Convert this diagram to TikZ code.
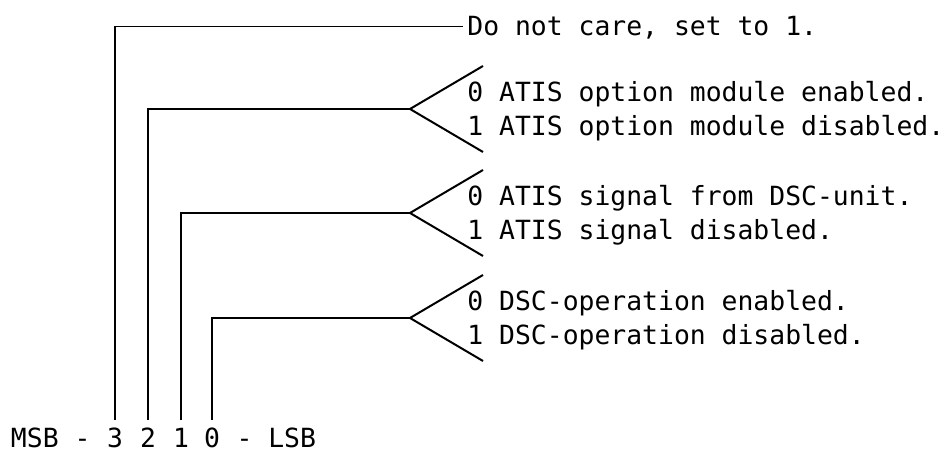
\documentclass[tikz,border=0pt]{standalone}
\usepackage{fontspec}
\setmonofont{DejaVu Sans Mono}
\usetikzlibrary{positioning}

\begin{document}
\begin{tikzpicture}[x=0.5pt,y=-0.5pt,
        txt/.style={font=\ttfamily\fontsize{13.2}{16}\selectfont, inner sep=0pt, anchor=base west},
        bit/.style={txt, anchor=base},
        wire/.style={line width=0.9pt, shorten <=4pt}]
    \useasboundingbox (0,0) rectangle (948,453);

    % bit digits
    \foreach \b/\x in {3/115,2/148,1/181,0/212}
        \node[bit] (b\b) at (\x,448) {\b};
    \node[txt, left=7.9pt of b3.base west, anchor=base east] (msb) {MSB -};
    \node[txt, right=7.9pt of b0.base east, anchor=base west] (lsb) {- LSB};

    % bit 3
    \node[txt] (care) at (467,36) {Do not care, set to 1.};
    \draw[wire] (b3.north) |- ([xshift=-2pt,yshift=4.75pt]care.base west);

    % bits 2, 1, 0 with their forks
    \foreach \b/\y/\on/\off in {2/109/{ATIS option module enabled.}/{ATIS option module disabled.},
            1/213/{ATIS signal from DSC-unit.}/{ATIS signal disabled.},
            0/318/{DSC-operation enabled.}/{DSC-operation disabled.}} {
        \coordinate (f\b) at (410,\y);
        \node[txt] (on\b) at (467,\y-7) {0 \on};
        \node[txt] (off\b) at (467,\y+27) {1 \off};
        \draw[wire] (b\b.north) |- (f\b);
        \draw[line width=1pt] (f\b) ++(73,-43) -- (f\b) -- ++(73,43);
    }
\end{tikzpicture}
\end{document}
